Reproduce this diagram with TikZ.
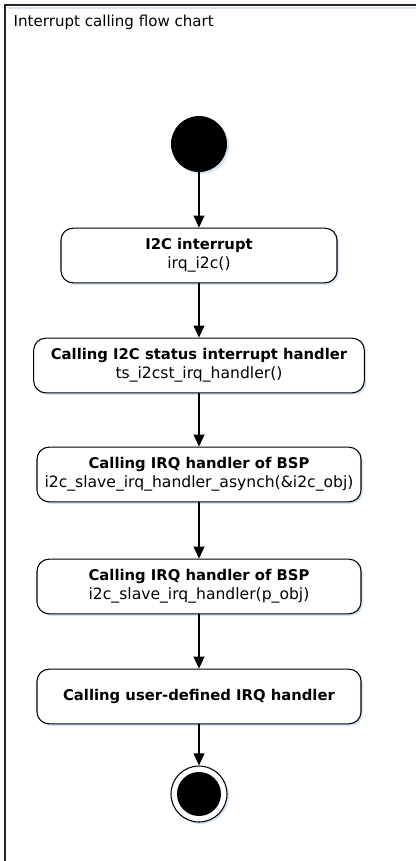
\documentclass[tikz,border=0pt]{standalone}
\usepackage{fontspec}
\setmainfont{DejaVu Sans}
\usetikzlibrary{arrows.meta,shadows}
\definecolor{shadowblue}{HTML}{D5E3F5}
\newcommand{\steptitle}[1]{{\fontsize{11.1}{14}\selectfont\bfseries #1}}

\begin{document}
\begin{tikzpicture}[x=0.75pt,y=-0.75pt,
  font=\fontsize{11.7}{14.5}\selectfont,
  blueshadow/.style={drop shadow={fill=shadowblue,opacity=1,shadow xshift=1.5pt,shadow yshift=-1.5pt}},
  action/.style={draw,line width=0.8pt,rounded corners=9pt,fill=white,minimum height=41pt,
    inner sep=1pt,align=center,blueshadow},
  startdot/.style={circle,fill=black,minimum size=42pt,inner sep=0pt,blueshadow},
  flow/.style={-{Triangle[width=8pt,length=9pt]},line width=1.3pt}]
\useasboundingbox (0,0) rectangle (416,861);
% frame
\draw[shadowblue,line width=1.5pt] (7,8) -- (430,8);
\draw[line width=1.5pt,black!85] (5,880) -- (5,5) -- (430,5);
\node[anchor=base west,font=\fontsize{11.3}{14}\selectfont] (title) at (9,26) {Interrupt calling flow chart};
% nodes
\node[startdot] (start) at (199,144) {};
\node[action,minimum width=207pt] (irq) at (199,255.5)
  {\steptitle{I2C interrupt}\\irq\_i2c()};
\node[action,minimum width=248pt] (status) at (199,365.5)
  {\steptitle{Calling I2C status interrupt handler}\\ts\_i2cst\_irq\_handler()};
\node[action,minimum width=243pt] (bspasync) at (199,474.5)
  {\steptitle{Calling IRQ handler of BSP}\\i2c\_slave\_irq\_handler\_asynch(\&i2c\_obj)};
\node[action,minimum width=243pt] (bsp) at (199,586.5)
  {\steptitle{Calling IRQ handler of BSP}\\i2c\_slave\_irq\_handler(p\_obj)};
\node[action,minimum width=243pt] (user) at (199,696.5)
  {\steptitle{Calling user-defined IRQ handler}};
\node[circle,draw,fill=white,line width=0.8pt,minimum size=42pt,inner sep=0pt,blueshadow] (finish) at (199,794) {};
\node[circle,fill=black,minimum size=33pt,inner sep=0pt] (finishdot) at (finish) {};
% connectors
\draw[flow] (start) -- (irq);
\draw[flow] (irq) -- (status);
\draw[flow] (status) -- (bspasync);
\draw[flow] (bspasync) -- (bsp);
\draw[flow] (bsp) -- (user);
\draw[flow] (user) -- (finish);
\end{tikzpicture}
\end{document}
